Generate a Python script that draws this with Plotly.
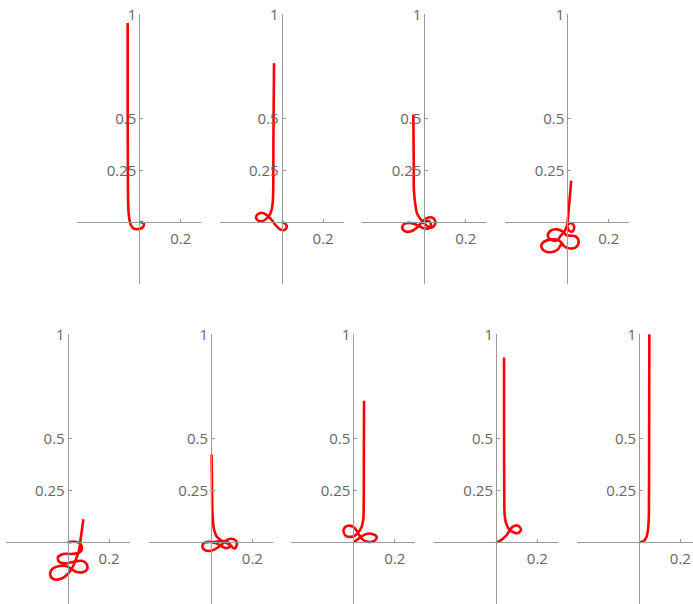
import plotly.graph_objects as go

# ---- data: curve shapes (x, y in plot units) ----
p1_x = [-0.056, -0.056, -0.055, -0.054, -0.052, -0.048, -0.040, -0.028, -0.012, 0.008, 0.020, 0.022, 0.014, 0.003]
p1_y = [0.958, 0.5, 0.2, 0.1, 0.05, 0.015, -0.015, -0.029, -0.033, -0.030, -0.020, -0.008, -0.001, 0.0]

p2_x = [-0.037, -0.040, -0.041, -0.043, -0.047, -0.056, -0.072, -0.092, -0.113, -0.124, -0.116, -0.092, -0.069, -0.048, -0.029, -0.008, 0.011, 0.024, 0.020, 0.0]
p2_y = [0.765, 0.4, 0.15, 0.10, 0.068, 0.039, 0.019, 0.006, 0.008, 0.023, 0.039, 0.045, 0.032, 0.011, -0.015, -0.034, -0.038, -0.026, -0.009, 0.0]

p3_x = [-0.053, -0.051, -0.050, -0.043, -0.035, -0.019, 0.005, 0.029, 0.048, 0.053, 0.037, 0.010, -0.011, -0.032, -0.060, -0.087, -0.106, -0.100, -0.071, -0.035, -0.003, 0.021, 0.032, 0.021, 0.0]
p3_y = [0.518, 0.3, 0.15, 0.084, 0.043, 0.016, -0.010, -0.026, -0.016, 0.006, 0.023, 0.019, 0.0, -0.023, -0.042, -0.045, -0.029, -0.010, -0.003, -0.013, -0.029, -0.029, -0.013, 0.006, 0.0]

p4_x = [0.019, 0.012, 0.006, 0.002, 0.000, 0.008, 0.024, 0.033, 0.028, 0.012, -0.002, -0.010, -0.030, -0.050, -0.080, -0.094, -0.080, -0.050, -0.020, -0.005, 0.013, 0.040, 0.055, 0.042, 0.013, -0.015, -0.028, -0.045, -0.075, -0.110, -0.126, -0.110, -0.079, -0.048, -0.035, -0.025]
p4_y = [0.200, 0.120, 0.050, 0.005, -0.020, -0.040, -0.044, -0.030, -0.010, -0.004, -0.018, -0.038, -0.062, -0.086, -0.083, -0.065, -0.040, -0.034, -0.045, -0.062, -0.064, -0.068, -0.092, -0.120, -0.126, -0.115, -0.098, -0.085, -0.082, -0.092, -0.113, -0.138, -0.144, -0.132, -0.115, -0.095]

p5_x = [0.0, 0.035, 0.060, 0.069, 0.056, 0.019, -0.021, -0.047, -0.040, -0.005, 0.035, 0.068, 0.089, 0.095, 0.076, 0.040, 0.014, -0.008, -0.040, -0.072, -0.085, -0.069, -0.029, 0.003, 0.023, 0.040, 0.055, 0.064, 0.076]
p5_y = [0.0, 0.003, -0.005, -0.029, -0.050, -0.056, -0.056, -0.072, -0.095, -0.101, -0.092, -0.089, -0.101, -0.126, -0.143, -0.142, -0.126, -0.114, -0.114, -0.126, -0.153, -0.177, -0.174, -0.150, -0.121, -0.082, -0.037, 0.027, 0.111]

p6_x = [0.003, 0.005, 0.008, 0.015, 0.026, 0.045, 0.070, 0.095, 0.112, 0.124, 0.122, 0.105, 0.082, 0.062, 0.040, 0.015, -0.010, -0.032, -0.042, -0.030, -0.005, 0.025, 0.050, 0.072, 0.090, 0.092, 0.075, 0.050, 0.022, 0.0]
p6_y = [0.422, 0.25, 0.12, 0.06, 0.03, 0.012, 0.000, -0.015, -0.030, -0.015, 0.005, 0.016, 0.014, -0.002, -0.020, -0.035, -0.042, -0.036, -0.018, -0.002, 0.002, -0.005, -0.018, -0.028, -0.022, -0.008, 0.004, 0.006, 0.003, 0.0]

p7_x = [0.052, 0.051, 0.050, 0.048, 0.039, 0.016, -0.005, -0.037, -0.047, -0.029, 0.0, 0.019, 0.039, 0.068, 0.100, 0.113, 0.092, 0.060, 0.027, 0.003]
p7_y = [0.680, 0.4, 0.15, 0.108, 0.071, 0.039, 0.027, 0.032, 0.060, 0.079, 0.074, 0.052, 0.019, 0.003, 0.006, 0.024, 0.040, 0.039, 0.019, 0.0]

p8_x = [0.039, 0.039, 0.040, 0.042, 0.048, 0.065, 0.085, 0.105, 0.121, 0.103, 0.082, 0.068, 0.052, 0.030, 0.012, 0.0]
p8_y = [0.889, 0.5, 0.2, 0.13, 0.095, 0.060, 0.048, 0.044, 0.062, 0.081, 0.075, 0.060, 0.035, 0.015, 0.003, 0.0]

p9_x = [0.0, 0.012, 0.025, 0.036, 0.042, 0.046, 0.048, 0.049, 0.050]
p9_y = [0.0, 0.002, 0.008, 0.025, 0.05, 0.09, 0.15, 0.5, 1.02]

ytick_vals = [0.25, 0.5, 1.0]
ytick_text = ["0.25", "0.5", "1"]
xtick_vals = [0.2]
xtick_text = ["0.2"]

curves = [(p1_x, p1_y), (p2_x, p2_y), (p3_x, p3_y), (p4_x, p4_y),
          (p5_x, p5_y), (p6_x, p6_y), (p7_x, p7_y), (p8_x, p8_y), (p9_x, p9_y)]

# ---- layout geometry (pixels) ----
W, H = 693, 604
SX, SY = 207.0, 208.0
XMIN, XMAX = -0.3, 0.3
YMIN, YMAX = -0.296, 1.0
origins = [(139.3, 222.3), (281.7, 222.3), (424.3, 222.3), (567.3, 222.3),
           (67.7, 542.3), (211.0, 542.3), (353.3, 542.3), (496.0, 542.3), (639.0, 542.3)]

AXIS_COLOR = "#9a9a9a"
TEXT_COLOR = "#666666"
FONT = dict(family="Open Sans, DejaVu Sans, sans-serif", size=15, color=TEXT_COLOR)

fig = go.Figure()
layout = dict(width=W, height=H, margin=dict(l=0, r=0, t=0, b=0),
              paper_bgcolor="white", plot_bgcolor="rgba(0,0,0,0)", showlegend=False)

for i, ((cx, cy), (ox, oy)) in enumerate(zip(curves, origins), start=1):
    xmax = min(XMAX, (W - ox) / SX)
    xd = [(ox + XMIN * SX) / W, (ox + xmax * SX) / W]
    yd = [max(0.0, 1 - (oy - YMIN * SY) / H), 1 - (oy - YMAX * SY) / H]
    xpos = ox / W
    ypos = 1 - oy / H
    sfx = "" if i == 1 else str(i)
    fig.add_trace(go.Scatter(x=cx, y=cy, mode="lines",
                             line=dict(color="#ff0000", width=2.6, shape="spline", smoothing=1.0),
                             xaxis="x" + sfx, yaxis="y" + sfx, hoverinfo="skip"))
    layout["xaxis" + sfx] = dict(domain=xd, range=[XMIN, xmax], anchor="free", position=ypos,
                                 showgrid=False, zeroline=False, showline=True, linecolor=AXIS_COLOR,
                                 linewidth=1, ticks="inside", ticklen=3, tickcolor=AXIS_COLOR,
                                 tickvals=xtick_vals, ticktext=xtick_text, tickfont=FONT,
                                 ticklabelstandoff=3,
                                 automargin=False, fixedrange=True)
    layout["yaxis" + sfx] = dict(domain=yd, range=[YMIN, YMAX], anchor="free", position=xpos,
                                 showgrid=False, zeroline=False, showline=True, linecolor=AXIS_COLOR,
                                 linewidth=1, ticks="inside", ticklen=3, tickcolor=AXIS_COLOR,
                                 tickvals=ytick_vals, ticktext=ytick_text, tickfont=FONT,
                                 automargin=False, fixedrange=True)

fig.update_layout(**layout)
fig.write_html("out.html", config={"displayModeBar": False},
               post_script="document.body.style.margin='0';document.body.style.padding='0';"
                           "document.documentElement.style.overflow='hidden';")
